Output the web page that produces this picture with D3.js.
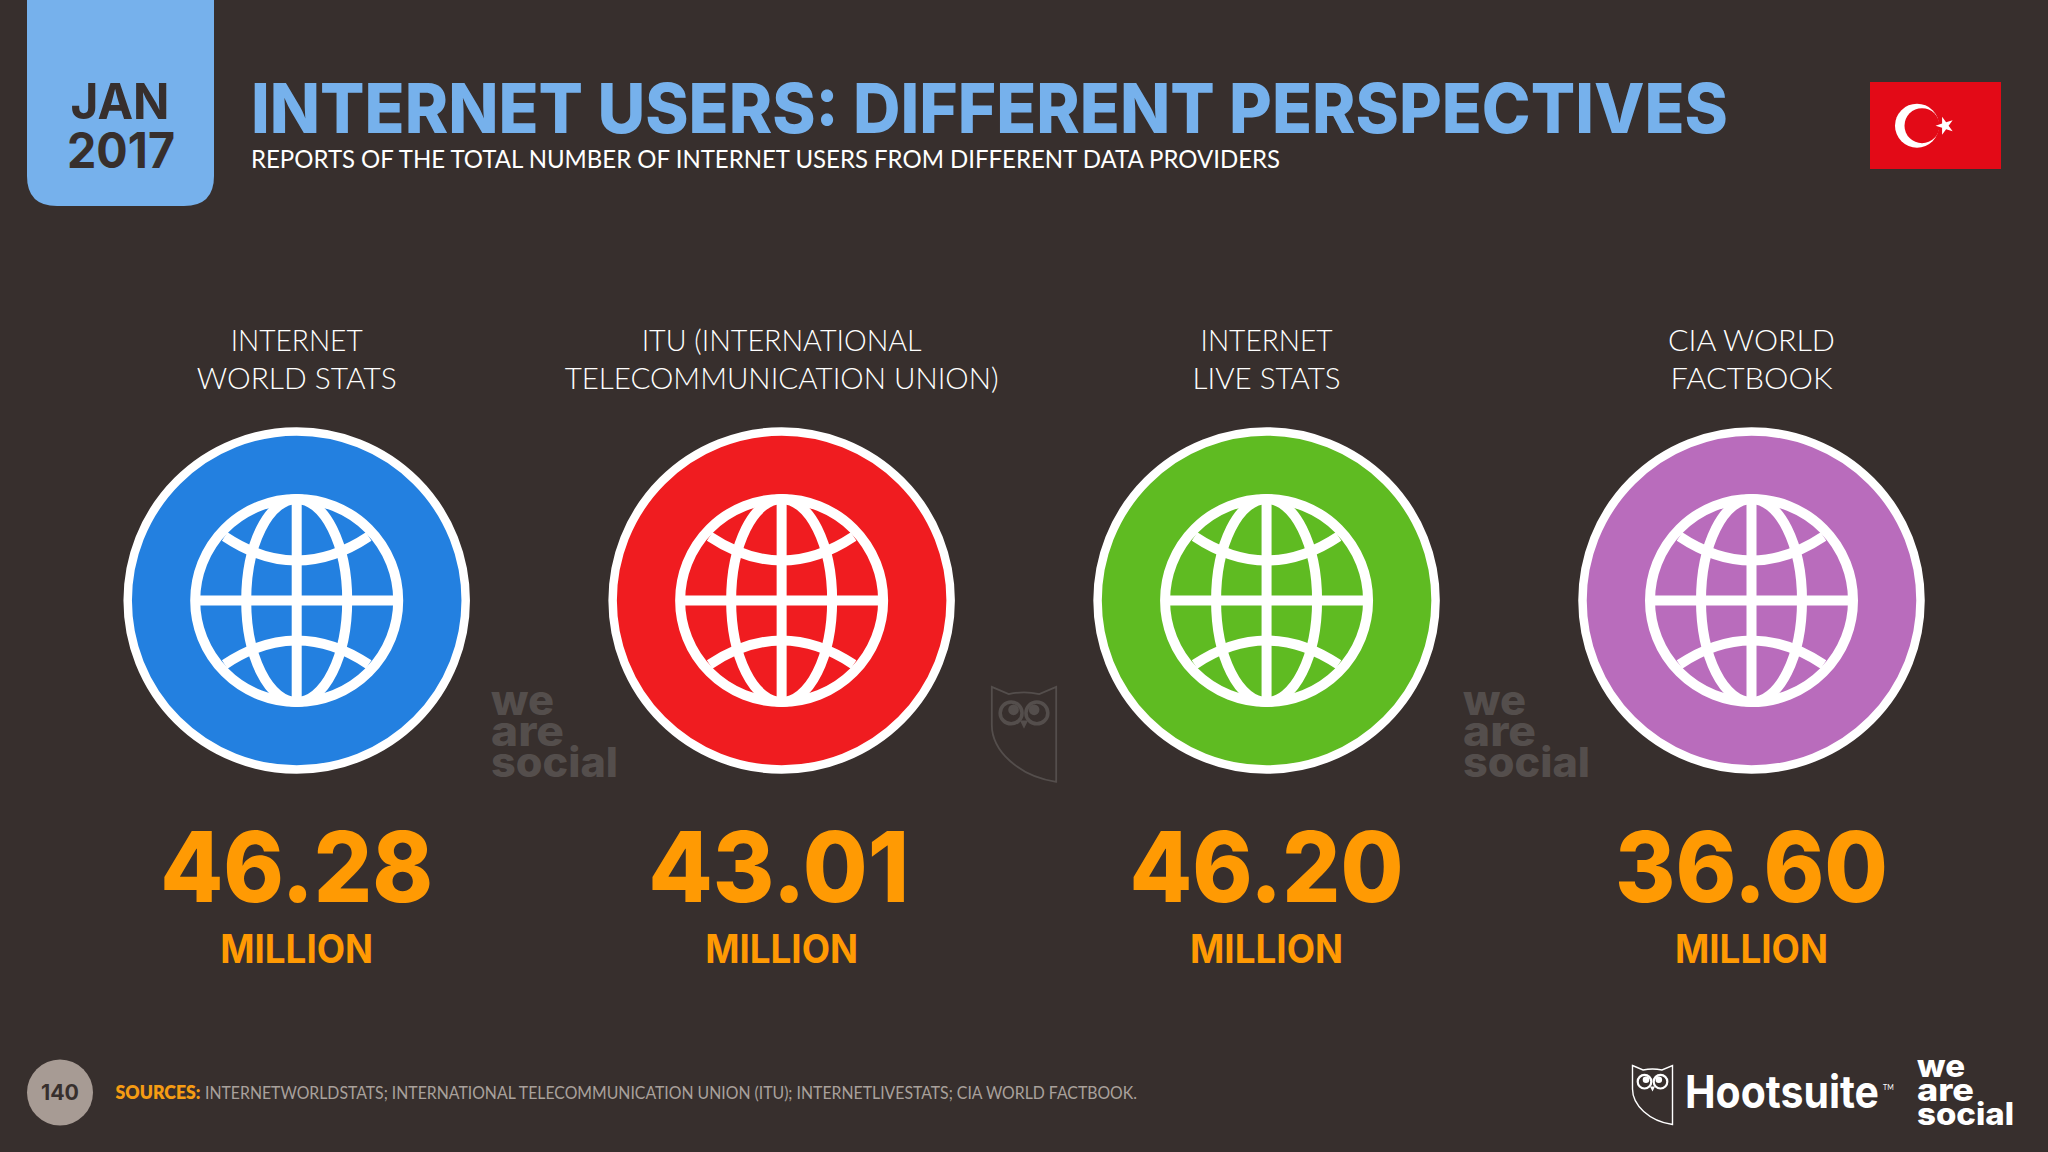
<!DOCTYPE html>
<html><head><meta charset="utf-8">
<script src="https://cdn.jsdelivr.net/npm/d3@7"></script>
<style>html,body{margin:0;padding:0;background:#372f2d}svg{display:block}</style>
</head><body><svg id="c" width="2048" height="1152"></svg>
<script>
const providers = ["Internet World Stats","ITU","Internet Live Stats","CIA World Factbook"];
const labelLine1 = ["INTERNET","ITU (INTERNATIONAL","INTERNET","CIA WORLD"];
const labelLine2 = ["WORLD STATS","TELECOMMUNICATION UNION)","LIVE STATS","FACTBOOK"];
const usersMillions = [46.28,43.01,46.20,36.60];
const circleColours = ["#2380e0","#f01c20","#5fbb22","#b96cbc"];
const unitLabel = "MILLION";
const sourcesText = "INTERNETWORLDSTATS; INTERNATIONAL TELECOMMUNICATION UNION (ITU); INTERNETLIVESTATS; CIA WORLD FACTBOOK.";

const BG="#372f2d", BLUE="#76b1ec", ORANGE="#ff9a03", FONT="Lato", HEAVY="Inter";
const svg=d3.select("#c");
svg.append("rect").attr("width",2048).attr("height",1152).attr("fill",BG);

function T(parent,s,x,y,size,weight,fill,anchor,width,font){
  const t=parent.append("text").text(s).attr("x",x).attr("y",y)
    .attr("font-family",font||FONT).attr("font-size",size).attr("font-weight",weight)
    .attr("fill",fill).attr("text-anchor",anchor||"start");
  if(width) t.attr("textLength",width).attr("lengthAdjust","spacingAndGlyphs");
  return t;
}

// header
svg.append("path").attr("fill",BLUE)
  .attr("d","M27,0H214V176Q214,206 184,206H57Q27,206 27,176Z");
T(svg,"JAN",120,119,49,700,BG,"middle",99,HEAVY);
T(svg,"2017",121,168,49,700,BG,"middle",108,HEAVY);
T(svg,"INTERNET USERS: DIFFERENT PERSPECTIVES",251,133,69,800,BLUE,"start",1477,HEAVY);
T(svg,"REPORTS OF THE TOTAL NUMBER OF INTERNET USERS FROM DIFFERENT DATA PROVIDERS",251,168,25,400,"#ffffff","start",1029);

// flag
const flag=svg.append("g");
flag.append("rect").attr("x",1870).attr("y",82).attr("width",131).attr("height",87).attr("fill","#e30a17");
flag.append("circle").attr("cx",1917).attr("cy",125.7).attr("r",22).attr("fill","#fff");
flag.append("circle").attr("cx",1922).attr("cy",125.7).attr("r",17.5).attr("fill","#e30a17");
flag.append("path").attr("d",d3.symbol(d3.symbolStar,100)())
  .attr("transform","translate(1945,125.7) rotate(-90)").attr("fill","#fff");

// columns
const x=d3.scalePoint().domain(providers).range([296.7,1751.5]);
const fmt=d3.format(".2f");
const measure={ "INTERNET":132,"WORLD STATS":200,"ITU (INTERNATIONAL":280,"TELECOMMUNICATION UNION)":434,"LIVE STATS":148,"CIA WORLD":167,"FACTBOOK":162 };
const numberWidth=[273,261,274,273];
const numberShift=[0,-3,0,0];
const cy=600.5;
providers.forEach((p,i)=>{
  const g=svg.append("g"), cx=x(p);
  T(g,labelLine1[i],cx,351,30,300,"#fff","middle",measure[labelLine1[i]]);
  T(g,labelLine2[i],cx,389,30,300,"#fff","middle",measure[labelLine2[i]]);
  g.append("circle").attr("cx",cx).attr("cy",cy).attr("r",169).attr("fill",circleColours[i])
    .attr("stroke","#fff").attr("stroke-width",8.5);
  const gl=g.append("g").attr("transform",`translate(${cx},${cy})`).attr("fill","none").attr("stroke","#fff").attr("stroke-width",10);
  gl.append("circle").attr("r",101.5);
  gl.append("ellipse").attr("rx",50.5).attr("ry",101.5);
  gl.append("line").attr("x1",0).attr("x2",0).attr("y1",-101.5).attr("y2",101.5);
  gl.append("line").attr("x1",-101.5).attr("x2",101.5).attr("y1",0).attr("y2",0);
  gl.append("path").attr("d","M-72,-64Q0,-16 72,-64");
  gl.append("path").attr("d","M-72,64Q0,16 72,64");
  T(g,fmt(usersMillions[i]),cx+numberShift[i],902,97,800,ORANGE,"middle",numberWidth[i],HEAVY);
  T(g,unitLabel,cx,963,39,700,ORANGE,"middle",153,HEAVY);
});

// logos
function weAreSocial(x0,bases,size,widths,fill){
  const g=svg.append("g");
  ["we","are","social"].forEach((w,i)=>{
    T(g,w,x0,bases[i],size,800,fill,"start",widths[i],HEAVY);
  });
  return g;
}
function owl(x0,y0,w,fill,sw){
  const k=w/41;
  const g=svg.append("g").attr("transform",`translate(${x0},${y0}) scale(${k})`);
  g.append("path").attr("fill","none").attr("stroke",fill).attr("stroke-width",sw/k)
    .attr("d","M0.5,0.5L11,5Q20.5,3 30,5L40.5,0.5V59.5C17,56 0.5,40 0.5,24Z");
  [[12.5,16.7],[28.5,16.7]].forEach(e=>{
    g.append("circle").attr("cx",e[0]).attr("cy",e[1]).attr("r",6.8).attr("fill","none").attr("stroke",fill).attr("stroke-width",2.2);
  });
  g.append("circle").attr("cx",14).attr("cy",14.8).attr("r",3.3).attr("fill",fill);
  g.append("circle").attr("cx",26.8).attr("cy",14.8).attr("r",3.3).attr("fill",fill);
  g.append("path").attr("d","M18,21.5L23,21.5L20.5,26.5Z").attr("fill",fill);
}
const WM="#544e4c";
weAreSocial(491,[715,746,777],41,[63,73,127],WM);
weAreSocial(1463,[715,746,777],41,[63,73,127],WM);
owl(991,686,66,WM,1.8);
owl(1632,1065,41,"#fff",1.4);
T(svg,"Hootsuite",1685,1108,45,700,"#fff","start",194,HEAVY);
T(svg,"TM",1883,1090,7,400,"#fff");
weAreSocial(1917,[1077,1101,1125],31,[48,57,97],"#fff");

// footer
svg.append("circle").attr("cx",60).attr("cy",1092.5).attr("r",33).attr("fill","#a79b94");
T(svg,"140",60,1099.5,21,700,BG,"middle",38,HEAVY);
T(svg,"SOURCES:",115.5,1099,18,800,"#f59c13","start",85);
T(svg,sourcesText,205,1099,18,400,"#a9a19c","start",932);
</script></body></html>
